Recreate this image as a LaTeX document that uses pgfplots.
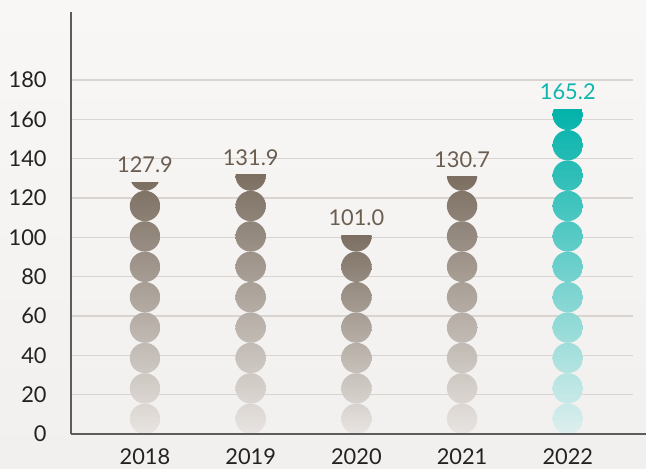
\documentclass[border=0pt]{standalone}
\usepackage{pgfplots}
\usepackage{pgfplotstable}
\pgfplotsset{compat=1.18}
\usepackage{fontspec}
\setmainfont{Lato}
\definecolor{bgtop}{HTML}{F8F7F6}
\definecolor{bgbot}{HTML}{F2F0EF}
\definecolor{gridc}{HTML}{DAD4D0}
\definecolor{axisc}{HTML}{5C5C5C}
\definecolor{brdark}{HTML}{7C6F62}
\definecolor{brlight}{HTML}{E8E4E1}
\definecolor{brtext}{HTML}{6B5D50}
\definecolor{tldark}{HTML}{02B2AA}
\definecolor{tllight}{HTML}{DDEFEE}
\definecolor{tltext}{HTML}{10B5AE}
\definecolor{tickc}{HTML}{222222}

\pgfplotstableread{
x value
0 127.9
1 131.9
2 101.0
3 130.7
}\brown
\pgfplotstableread{
x value
4 165.2
}\teal

% a mark that draws nothing
\pgfdeclareplotmark{empty}{}

% a column drawn as a stack of dots from 0 up to the value,
% shaded light (bottom) to dark (top); 211pt of axis = 214.6 units
\pgfplotsset{
  dotbar/.style 2 args={
    scatter, only marks, mark=empty,
    visualization depends on=rawy \as \yval,
    scatter/@pre marker code/.code={%
      \pgfmathsetmacro\hh{\yval/214.6*211}%
      \foreach \k in {0,...,12}{%
        \pgfmathsetmacro\cy{-\hh+7.6+15.2*\k}%
        \begin{pgfscope}
          \pgfpathrectanglecorners{\pgfpoint{-7.6pt}{-\hh pt}}{\pgfpoint{7.6pt}{0pt}}%
          \pgfusepath{clip}%
          \pgfpathcircle{\pgfpoint{0pt}{\cy pt}}{7.6pt}%
          \pgfusepath{clip}%
          \shade[draw=none, bottom color=#1, top color=#2] (-7.6pt,-\hh pt) rectangle (7.6pt,0pt);
        \end{pgfscope}
      }%
    },
    scatter/@post marker code/.code={}
  },
  vallabel/.style={
    only marks, mark=empty,
    nodes near coords={\pgfmathprintnumber[fixed,fixed zerofill,precision=1,assume math mode=true]{\pgfplotspointmeta}},
    every node near coord/.append style={font=\fontsize{10.9pt}{13pt}\selectfont, color=#1, anchor=south, inner sep=0pt, yshift=4.5pt}
  }
}

\begin{document}
\begin{tikzpicture}
  \shade[top color=bgtop, bottom color=bgbot] (-35.5pt,-17pt) rectangle (287.5pt,217pt);
  \begin{axis}[
    at={(0,0)}, anchor=south west,
    scale only axis, width=281pt, height=211pt,
    xmin=-0.7, xmax=4.617, ymin=0, ymax=214.6,
    axis y line*=left, axis x line*=bottom,
    y axis line style={draw=axisc, line width=0.65pt},
    x axis line style={draw=none},
    xtick={0,1,2,3,4}, xticklabels={2018,2019,2020,2021,2022},
    ytick={0,20,...,180},
    ymajorgrids, grid style={draw=gridc, line width=0.75pt},
    major tick length=0pt, tick style={draw=none},
    ticklabel style={font=\fontsize{10.9pt}{13pt}\selectfont, color=tickc, inner sep=0pt},
    yticklabel style={xshift=-12pt},
    xticklabel style={yshift=-7pt},
    /pgf/number format/assume math mode=true,
    clip=false
  ]
    \addplot[dotbar={brlight}{brdark}] table[x=x, y=value] {\brown};
    \addplot[dotbar={tllight}{tldark}] table[x=x, y=value] {\teal};
    \addplot[vallabel=brtext] table[x=x, y=value] {\brown};
    \addplot[vallabel=tltext] table[x=x, y=value] {\teal};
  \end{axis}
  \draw[axisc, line width=0.65pt] (0,0) -- (287.5pt,0);
  \pgfresetboundingbox
  \useasboundingbox (-35.5pt,-17pt) rectangle (287.5pt,217pt);
\end{tikzpicture}
\end{document}
